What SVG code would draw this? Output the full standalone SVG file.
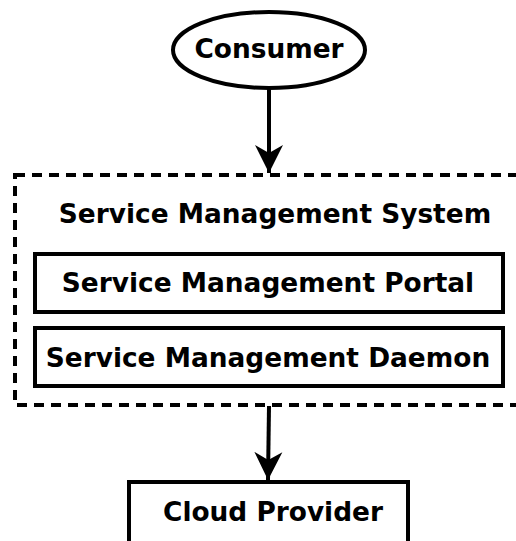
<svg xmlns="http://www.w3.org/2000/svg" width="516" height="541" viewBox="0 0 516 541">
<style>
text{font-family:"DejaVu Sans",sans-serif;font-weight:bold;font-size:26.4px;fill:#000}
.box{fill:#fff;stroke:#000;stroke-width:4}
.edge{stroke:#000;stroke-width:4;fill:none}
</style>
<defs>
<marker id="arr" markerUnits="userSpaceOnUse" markerWidth="30" markerHeight="30" viewBox="0 0 30 30" refX="28" refY="15" orient="auto">
<path d="M0,1 L28,15 L0,29 L8,15 Z" fill="#000"/>
</marker>
</defs>
<rect width="516" height="541" fill="#fff"/>
<g id="sms">
<rect x="15" y="175" width="520" height="230" fill="none" stroke="#000" stroke-width="4" stroke-dasharray="10,7"/>
<text x="275" y="223" text-anchor="middle">Service Management System</text>
</g>
<g id="consumer">
<ellipse cx="269" cy="50" rx="96" ry="38" class="box"/>
<text x="269" y="58" text-anchor="middle">Consumer</text>
</g>
<g id="portal">
<rect x="35" y="254" width="468" height="58" class="box"/>
<text x="268" y="292" text-anchor="middle">Service Management Portal</text>
</g>
<g id="daemon">
<rect x="35" y="328" width="468" height="58" class="box"/>
<text x="268" y="367" text-anchor="middle">Service Management Daemon</text>
</g>
<g id="cloud">
<rect x="129" y="482" width="279" height="64" class="box"/>
<text x="273" y="521" text-anchor="middle">Cloud Provider</text>
</g>
<g id="connectors">
<line x1="269" y1="89" x2="269" y2="173" class="edge" marker-end="url(#arr)"/>
<line x1="269" y1="406" x2="268" y2="480" class="edge" marker-end="url(#arr)"/>
</g>
</svg>
